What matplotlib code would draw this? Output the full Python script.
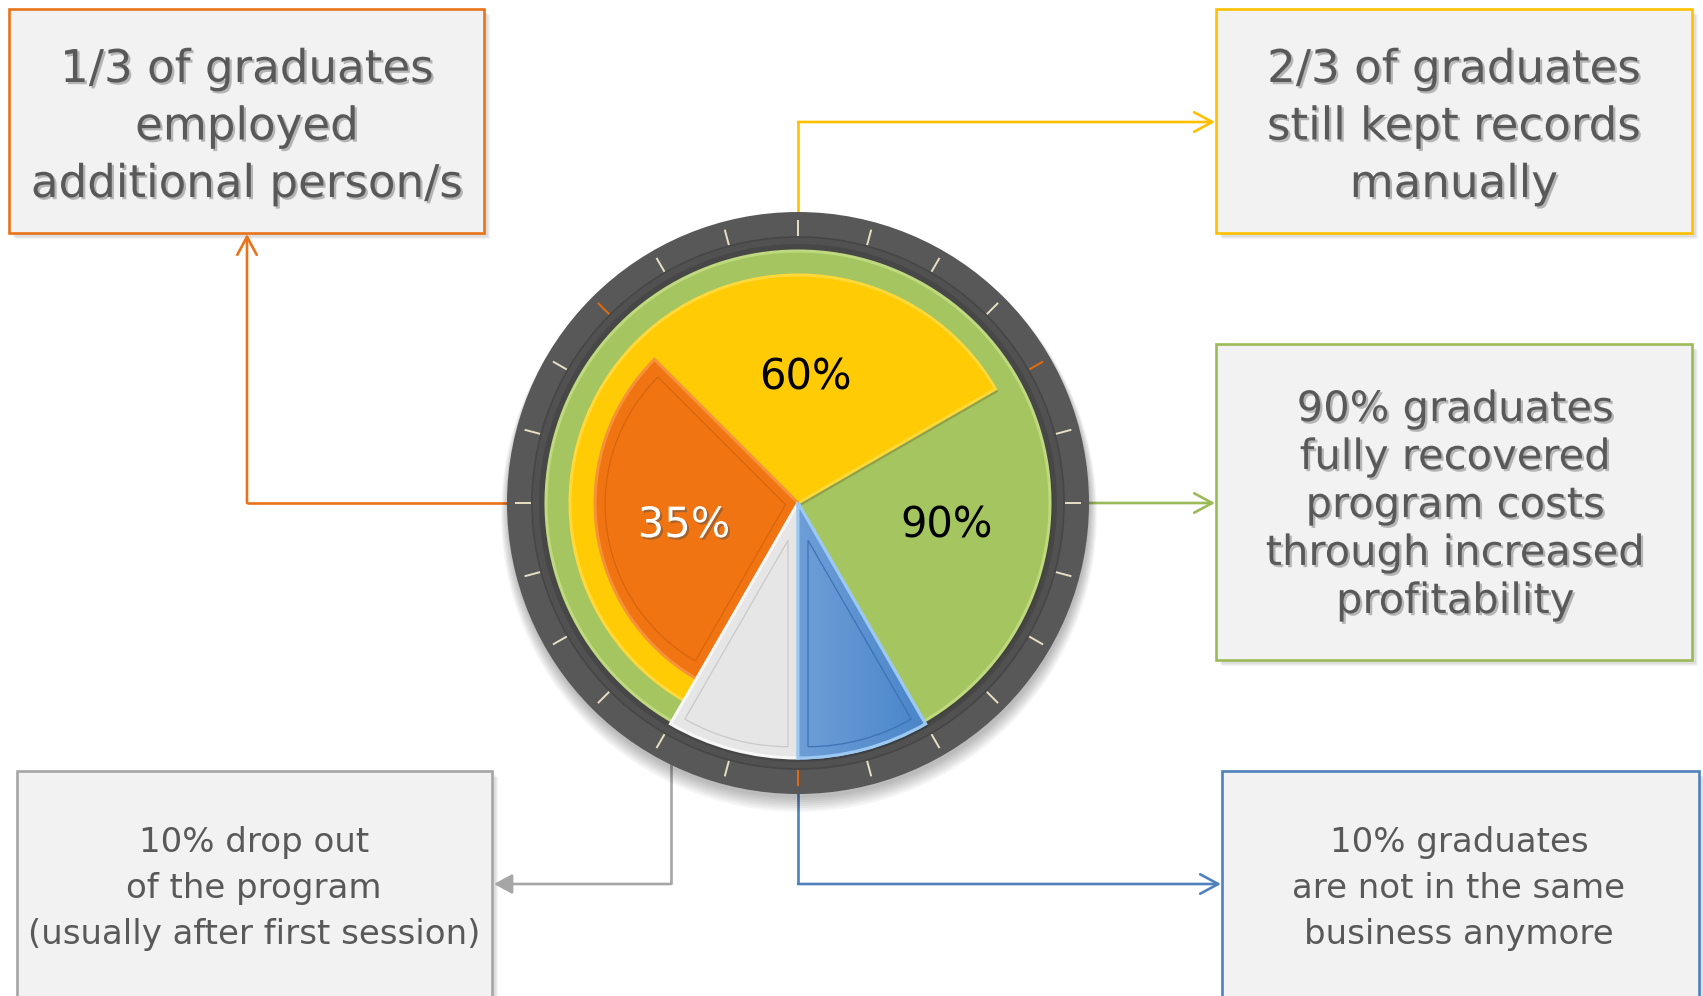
"""Graduate outcome infographic: stacked partial pies inside a dial, with call-out boxes."""
import numpy as np
import matplotlib
matplotlib.use("Agg")
import matplotlib.pyplot as plt
import matplotlib.patheffects as pe
from matplotlib.colors import LinearSegmentedColormap
from matplotlib.patches import Rectangle, Circle, Wedge

W, H = 1703, 996

# ---- data -------------------------------------------------------------
slice_names = ["green", "yellow", "orange", "white", "blue"]
slice_pct = [90, 60, 35, 10, 10]             # percentages quoted in the boxes
slice_sweep = [300, 210, 105, 30, 30]        # sweep of each slice as drawn (deg)
pie_labels = {"yellow": "60%", "orange": "35%", "green": "90%"}

box_text = {
    "orange": ["1/3 of graduates", "employed", "additional person/s"],
    "yellow": ["2/3 of graduates", "still kept records", "manually"],
    "green": ["90% graduates", "fully recovered", "program costs",
              "through increased", "profitability"],
    "white": ["10% drop out", "of the program", "(usually after first session)"],
    "blue": ["10% graduates", "are not in the same", "business anymore"],
}

# ---- styling / layout ---------------------------------------------------
CX, CY = 798, 503
FILL = {"green": "#A5C561", "yellow": "#FFCB05", "orange": "#F07412",
        "white": "#E6E6E6", "blue": "#5089CB"}
EDGE = {"green": "#BFD97F", "yellow": "#FFD83A", "orange": "#F8923A",
        "white": "#F7F7F7", "blue": "#9CC8F2"}
LINE = {"green": "#9BBB59", "yellow": "#FFC000", "orange": "#E9731A",
        "white": "#A6A6A6", "blue": "#4F81BD"}
RADIUS = {"green": 252, "yellow": 228, "orange": 203, "white": 255, "blue": 255}
START = {"green": 210, "yellow": 210, "orange": 210, "white": 180, "blue": 150}

# boxes: x0, y0, x1, y1 in pixels (y down)
BOX = {"orange": (9, 9, 484, 233), "yellow": (1216, 9, 1692, 233),
       "green": (1216, 344, 1692, 660), "white": (17, 771, 492, 1010),
       "blue": (1222, 771, 1699, 1010)}
BASELINES = {"orange": [82, 139.5, 197], "yellow": [82, 139.5, 197],
             "green": [421, 469, 517, 565, 613],
             "white": [852, 898, 944], "blue": [852, 898, 944]}
TEXT_X = {"orange": 247, "yellow": 1454, "green": 1455, "white": 254, "blue": 1459}
TEXT_SIZE = {"orange": 32.5, "yellow": 32.5, "green": 30, "white": 24.5, "blue": 24.5}

plt.rcParams["font.family"] = ["DejaVu Sans"]

fig = plt.figure(figsize=(W / 100, H / 100), dpi=100)
ax = fig.add_axes([0, 0, 1, 1])
fig.patch.set_facecolor("white")

shadow_txt = [pe.SimplePatchShadow(offset=(1.6, -1.6), shadow_rgbFace="#000000", alpha=0.25),
              pe.Normal()]

# ---- call-out boxes ----------------------------------------------------
for key, (x0, y0, x1, y1) in BOX.items():
    for i in range(1, 6):
        ax.add_patch(Rectangle((x0 + 1.2 * i, y0 + 1.2 * i), x1 - x0, y1 - y0,
                               facecolor="#000000", alpha=0.045, lw=0, zorder=1))
    ax.add_patch(Rectangle((x0, y0), x1 - x0, y1 - y0, facecolor="#F2F2F2",
                           edgecolor=LINE[key], lw=1.9, zorder=1.5))
    big = key in ("orange", "yellow", "green")
    for line, yb in zip(box_text[key], BASELINES[key]):
        ax.text(TEXT_X[key], yb, line, ha="center", va="baseline",
                fontsize=TEXT_SIZE[key], color="#595959", zorder=3,
                path_effects=shadow_txt if big else None)


# ---- connectors --------------------------------------------------------
def connector(points, color, style):
    xs = [p[0] for p in points[:-1]]
    ys = [p[1] for p in points[:-1]]
    ax.plot(xs, ys, color=color, lw=1.9, solid_capstyle="butt",
            solid_joinstyle="miter", zorder=2)
    ax.annotate("", xy=points[-1], xytext=points[-2], zorder=2,
                arrowprops=dict(arrowstyle=style, color=color, lw=1.9,
                                shrinkA=0, shrinkB=0))


open_head = "->,head_length=1.3,head_width=0.7"
connector([(CX - 200, CY), (247, CY), (247, 234)], LINE["orange"], open_head)
connector([(CX, CY - 200), (CX, 122), (1215, 122)], LINE["yellow"], open_head)
connector([(CX + 200, CY), (1215, CY)], LINE["green"], open_head)
connector([(671, CY + 200), (671, 884), (494, 884)], LINE["white"],
          "-|>,head_length=1.1,head_width=0.6")
connector([(CX, CY + 200), (CX, 884), (1221, 884)], LINE["blue"], open_head)

# ---- dial --------------------------------------------------------------
for i in range(8):
    ax.add_patch(Circle((CX + 1, CY + 4 + i), 291 + i, facecolor="#000000",
                        alpha=0.035, lw=0, zorder=4))
ax.add_patch(Circle((CX, CY), 291, facecolor="#585858", lw=0, zorder=5))
ax.add_patch(Circle((CX, CY), 266, facecolor="#515151", edgecolor="#464646",
                    lw=1.2, zorder=5))
ax.add_patch(Circle((CX, CY), 259, facecolor="#3E3E3E", lw=0, zorder=5, alpha=0.5))

for k in range(24):
    ang = 15 * k
    phi = np.radians(ang)
    col = "#E46C0A" if ang in (60, 180, 315) else "#E8DFC4"
    r1, r2 = 267, 283
    ax.plot([CX + r1 * np.sin(phi), CX + r2 * np.sin(phi)],
            [CY - r1 * np.cos(phi), CY - r2 * np.cos(phi)],
            color=col, lw=1.4, zorder=6, solid_capstyle="butt")

# ---- slices ------------------------------------------------------------
wedge_of = {}
for z, (name, sweep) in enumerate(zip(slice_names, slice_sweep)):
    wedges, _ = ax.pie([sweep, 360 - sweep], radius=RADIUS[name], center=(CX, CY),
                       startangle=START[name] - 90, counterclock=True,
                       colors=[FILL[name], "none"],
                       wedgeprops=dict(edgecolor=EDGE[name], linewidth=2.2,
                                       joinstyle="miter"))
    wedges[1].set_visible(False)
    wedges[0].set_zorder(10 + z)
    wedges[0].set_path_effects([pe.SimplePatchShadow(offset=(2, -2), alpha=0.25),
                                pe.Normal()])
    wedge_of[name] = wedges[0]

# left-to-right sheen on the blue slice
blue_cmap = LinearSegmentedColormap.from_list("blue_sheen", ["#6E9ED8", "#4683C7"])
grad = np.linspace(0, 1, 256).reshape(1, -1)
img = ax.imshow(grad, cmap=blue_cmap, extent=(CX, CX + 140, CY + 260, CY),
                aspect="auto", zorder=14.5, interpolation="bicubic")
img.set_clip_path(wedge_of["blue"])
ax.add_patch(Wedge((CX, CY), RADIUS["blue"], START["blue"] - 90,
                   START["blue"] + slice_sweep[-1] - 90, fill=False,
                   edgecolor=EDGE["blue"], lw=2.2, zorder=14.6))

# thin bevel lines inside the narrow wedges
INSET = {"orange": "#D8650C", "white": "#C9C9C9", "blue": "#3D72B4"}
for name, col in INSET.items():
    sweep = slice_sweep[slice_names.index(name)]
    d = 10
    half = np.radians(sweep / 2)
    mid = np.radians(START[name] + sweep / 2)
    shift = d / np.sin(half)
    c2 = (CX + shift * np.sin(mid), CY - shift * np.cos(mid))
    ax.add_patch(Wedge(c2, RADIUS[name] - d - shift, START[name] - 90,
                       START[name] + sweep - 90, fill=False, edgecolor=col,
                       lw=0.9, zorder=20))

# ---- pie labels --------------------------------------------------------
ax.text(805, 389, pie_labels["yellow"], ha="center", va="baseline", fontsize=30,
        color="#000000", zorder=25)
ax.text(947, 537, pie_labels["green"], ha="center", va="baseline", fontsize=30,
        color="#000000", zorder=25)
ax.text(684, 537, pie_labels["orange"], ha="center", va="baseline", fontsize=30,
        color="#FFFFFF", zorder=25,
        path_effects=[pe.SimplePatchShadow(offset=(1.5, -1.5), alpha=0.45), pe.Normal()])

ax.set_xlim(0, W)
ax.set_ylim(H, 0)
ax.set_aspect("equal")
ax.axis("off")
fig.savefig("out.png", dpi=100, facecolor="white")
